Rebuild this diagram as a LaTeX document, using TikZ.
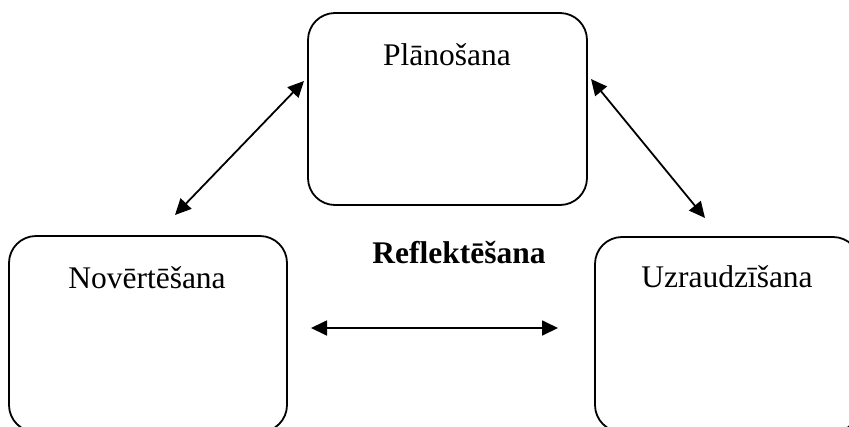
\documentclass[tikz,border=0pt]{standalone}
\usepackage{fontspec}
\setmainfont{Liberation Serif}
\usetikzlibrary{arrows.meta}
\begin{document}
\begin{tikzpicture}[x=1pt,y=-1pt,
  box/.style={draw=black,line width=1.8pt,rounded corners=27pt},
  lbl/.style={anchor=base,inner sep=0pt,font=\fontsize{31.5}{36}\selectfont},
  conn/.style={line width=1.8pt,{Triangle[length=16pt,width=15pt]}-{Triangle[length=16pt,width=15pt]}}]
\useasboundingbox (0,0) rectangle (849,426);
\clip (0,0) rectangle (849,426);
\draw[box] (308,13) rectangle (587,205);
\draw[box] (9,236) rectangle (287,432);
\draw[box] (595,237) rectangle (860,432);
\node[lbl] (plan) at (447,65) {Plānošana};
\node[lbl] (nov) at (147,288) {Novērtēšana};
\node[lbl] (uzr) at (727,287) {Uzraudzīšana};
\node[lbl,font=\fontsize{31.5}{36}\selectfont\bfseries] (refl) at (459,263) {Reflektēšana};
\coordinate (a1) at (175,215);
\coordinate (a2) at (304,81);
\coordinate (b1) at (591,79);
\coordinate (b2) at (705,218);
\coordinate (c1) at (311,328);
\coordinate (c2) at (558,328);
\draw[conn] (a1) -- (a2);
\draw[conn] (b1) -- (b2);
\draw[conn] (c1) -- (c2);
\end{tikzpicture}
\end{document}
